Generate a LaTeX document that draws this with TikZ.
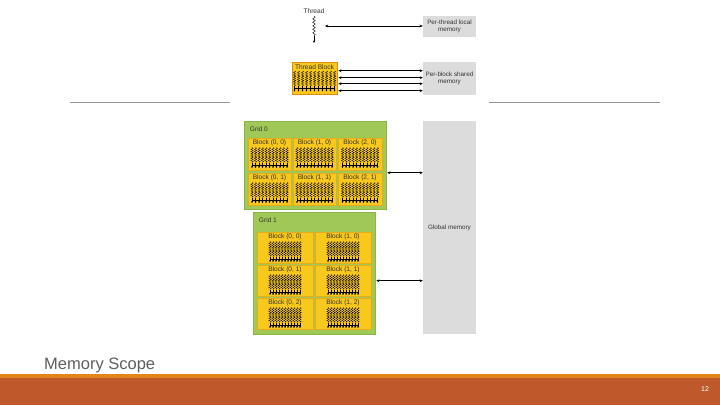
\documentclass[tikz,border=0pt]{standalone}
\usepackage{fontspec}
\setmainfont{Liberation Sans}
\usetikzlibrary{arrows.meta,decorations.pathmorphing,calc}
\definecolor{blk}{HTML}{F8C81C}
\definecolor{blkb}{HTML}{E5AC1C}
\definecolor{tbb}{HTML}{D98E12}
\definecolor{grn}{HTML}{9FC856}
\definecolor{grnb}{HTML}{8AB645}
\definecolor{mem}{HTML}{DCDCDC}
\definecolor{bar}{HTML}{BF592B}
\definecolor{stripe}{HTML}{E2861B}
\definecolor{titlec}{HTML}{5F5F5F}
\definecolor{txt}{HTML}{333333}
\tikzset{
  memb/.style={fill=mem, draw=none, inner sep=0pt, align=center, text=txt,
    font=\fontsize{6.3}{7.6}\selectfont},
  blockbox/.style={fill=blk, draw=blkb, line width=0.4pt, inner sep=0pt},
  gridbox/.style={fill=grn, draw=grnb, line width=0.5pt, inner sep=0pt},
  lbl/.style={inner sep=0pt, text=txt, font=\fontsize{6.6}{7}\selectfont},
  thr/.style={decorate, decoration={snake, amplitude=1.2pt, segment length=2.2pt},
    line width=0.3pt, black},
  tharrow/.style={line width=0.35pt, black, -{Stealth[length=1.8pt,width=1.8pt]}},
  link/.style={line width=0.6pt, black, {Stealth[length=3.2pt,width=2.8pt]}-{Stealth[length=3.2pt,width=2.8pt]}},
  sep/.style={draw=gray!85, line width=0.8pt}
}
% threads pattern: center x, top y, width
\newcommand\tpat[3]{%
  \foreach \k in {0,...,10}{%
    \pgfmathsetmacro\xx{#1-#3/2+\k*#3/10}%
    \foreach \r in {0,1,2}{%
      \draw[thr] (\xx,#2+\r*4.5) -- (\xx,#2+\r*4.5+6);
    }%
    \draw[tharrow] (\xx,#2+15) -- (\xx,#2+20.5);
  }%
  \draw[line width=0.8pt] (#1-#3/2-0.5,#2+17.5) -- (#1+#3/2+0.5,#2+17.5);
}
% block: name, x, y, w, h, label, pattern width
\newcommand\gblk[7]{%
  \node[blockbox, minimum width=#4pt, minimum height=#5pt] (#1) at (#2+#4/2,#3+#5/2) {};
  \node[lbl] at ($(#1.north)+(0,5)$) {#6};
  \tpat{#2+#4/2}{#3+9.5}{#7}
}
\begin{document}
\begin{tikzpicture}[x=1pt,y=-1pt]
\useasboundingbox (0,0) rectangle (720,405);
\fill[white] (0,0) rectangle (720,405);

% separators
\draw[sep] (70,102) -- (230,102);
\draw[sep] (489,102) -- (660,102);

% thread
\node[lbl] (thread) at (314,11) {Thread};
\draw[thr, line width=0.4pt, decoration={snake, amplitude=1.3pt, segment length=3.5pt}] (314,16) -- (314,37);
\draw[line width=0.4pt, -{Stealth[length=2.5pt,width=2.2pt]}] (314,36) -- (314,43);
\coordinate (thrR) at (325,26);

% memories
\node[memb, minimum width=53pt, minimum height=21pt] (loc) at (449.5,26.5) {Per-thread local\\memory};
\node[memb, minimum width=53pt, minimum height=33pt] (shm) at (449.5,78.5) {Per-block shared\\memory};
\node[memb, minimum width=53pt, minimum height=213pt] (glob) at (449.5,227.5) {Global memory};

\draw[link] (thrR) -- (thrR -| loc.west);

% thread block
\node[blockbox, draw=tbb, line width=0.6pt, minimum width=45pt, minimum height=32pt] (tb) at (314.5,78) {};
\node[lbl] at ($(tb.north)+(0,5)$) {Thread Block};
\tpat{314.5}{71}{40}
\foreach \yy [count=\n] in {9,16,22,29}{
  \coordinate (tbl\n) at ($(tb.north east)+(1,\yy)$);
  \draw[link] (tbl\n) -- (tbl\n -| shm.west);
}

% grid 0
\node[gridbox, minimum width=142pt, minimum height=88pt] (g0) at (315,165) {};
\node[lbl, anchor=west] at ($(g0.north west)+(6,8)$) {Grid 0};
\gblk{b00}{248}{138}{43}{32}{Block (0, 0)}{35}
\gblk{b10}{293}{138}{43}{32}{Block (1, 0)}{35}
\gblk{b20}{338}{138}{44}{32}{Block (2, 0)}{35}
\gblk{b01}{248}{173}{43}{32}{Block (0, 1)}{35}
\gblk{b11}{293}{173}{43}{32}{Block (1, 1)}{35}
\gblk{b21}{338}{173}{44}{32}{Block (2, 1)}{35}
\coordinate (g0l) at ($(g0.north east)+(1,52)$);
\draw[link] (g0l) -- (g0l -| glob.west);

% grid 1
\node[gridbox, minimum width=122pt, minimum height=122pt] (g1) at (314,273) {};
\node[lbl, anchor=west] at ($(g1.north west)+(6,8)$) {Grid 1};
\gblk{c00}{257}{232}{56}{31}{Block (0, 0)}{30}
\gblk{c10}{315}{232}{56}{31}{Block (1, 0)}{30}
\gblk{c01}{257}{265}{56}{31}{Block (0, 1)}{30}
\gblk{c11}{315}{265}{56}{31}{Block (1, 1)}{30}
\gblk{c02}{257}{298}{56}{31}{Block (0, 2)}{30}
\gblk{c12}{315}{298}{56}{31}{Block (1, 2)}{30}
\coordinate (g1l) at ($(g1.north east)+(1,69)$);
\draw[link] (g1l) -- (g1l -| glob.west);

% footer
\node[anchor=base west, inner sep=0pt, text=titlec, font=\fontsize{16.5}{19}\selectfont] (title) at (44,369) {Memory Scope};
\fill[stripe] (0,373.5) rectangle (720,378);
\fill[bar] (0,378) rectangle (720,405);
\node[text=white, inner sep=0pt, font=\fontsize{7}{8}\selectfont] (pnum) at (705,389.5) {12};
\end{tikzpicture}
\end{document}
